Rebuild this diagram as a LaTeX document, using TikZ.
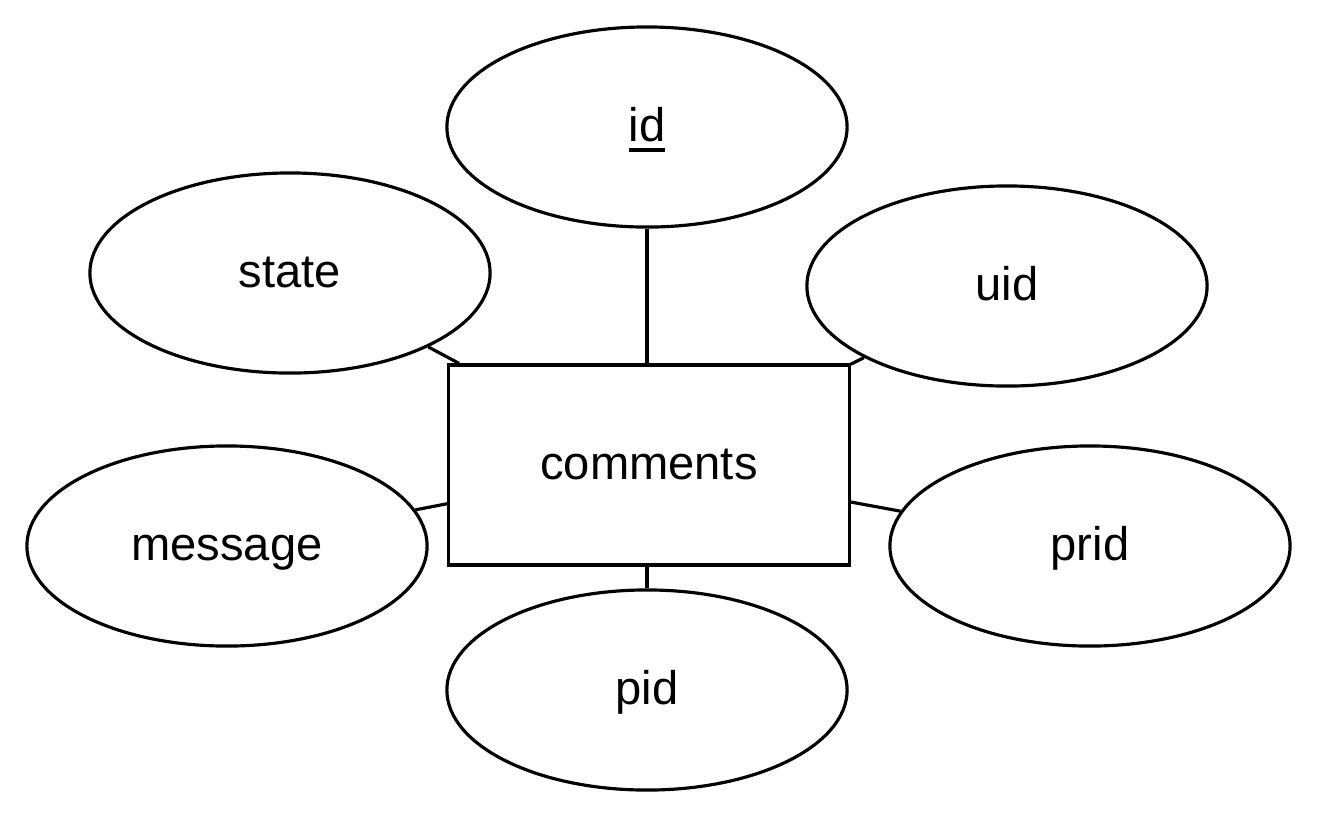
\documentclass[tikz,border=0pt]{standalone}
\usepackage{fontspec}
\setmainfont{Liberation Sans}
\usetikzlibrary{shapes.geometric}
\newcommand\ulkey[1]{\leavevmode\setbox0\hbox{#1}\rlap{\raisebox{-0.1cm}{\rule{\wd0}{0.04cm}}}\box0}
\begin{document}
\begin{tikzpicture}[x=0.01cm,y=-0.01cm,
  lbl/.style={font=\fontsize{13.4}{16}\selectfont,text height=0.39cm,text depth=0.1cm},
  attr/.style={draw,ellipse,line width=0.9pt,minimum width=4cm,minimum height=2cm,inner sep=0pt,lbl},
  ent/.style={draw,rectangle,line width=0.9pt,minimum width=4cm,minimum height=2cm,inner sep=0pt,lbl},
  conn/.style={line width=0.9pt}]
\useasboundingbox (0,0) rectangle (1320,820);
\node[ent] (c) at (649,465) {comments};
\node[attr] (id) at (647,127) {\ulkey{id}};
\node[attr] (state) at (290,273) {state};
\node[attr] (uid) at (1007,286) {uid};
\node[attr] (msg) at (227,546) {message};
\node[attr] (prid) at (1090,546) {prid};
\node[attr] (pid) at (647,690) {pid};
\draw[conn] (id.south) -- (id.south |- c.north);
\draw[conn] (state) -- (c);
\draw[conn] (uid) -- (c);
\draw[conn] (msg) -- (c);
\draw[conn] (prid) -- (c);
\draw[conn] (pid.north) -- (pid.north |- c.south);
\end{tikzpicture}
\end{document}
